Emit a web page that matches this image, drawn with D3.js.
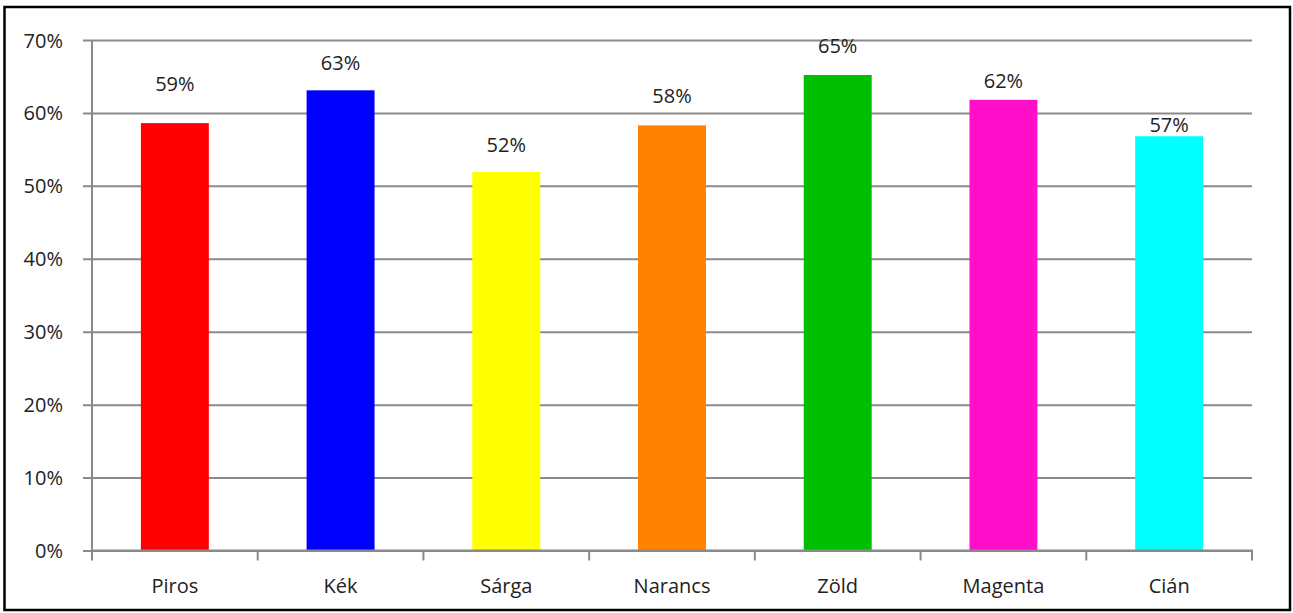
<!DOCTYPE html>
<html><head><meta charset="utf-8">
<script src="https://cdn.jsdelivr.net/npm/d3@7"></script>
<style>
html,body{margin:0;padding:0;background:#fff;}
svg text{font-family:"Open Sans","DejaVu Sans",sans-serif;fill:#222;}
</style></head>
<body>
<svg id="c" width="1293" height="613"></svg>
<script>
const categories = ["Piros","Kék","Sárga","Narancs","Zöld","Magenta","Cián"];
const values = [0.586, 0.631, 0.519, 0.583, 0.652, 0.618, 0.568];
const colors = ["#ff0000","#0000ff","#ffff00","#ff8300","#00bf00","#ff0fca","#00ffff"];
const yTicks = [0,0.1,0.2,0.3,0.4,0.5,0.6,0.7];
// manual label placement (pixel gap between label baseline and bar top), as in the original
const labelGap = [32,20,20,22,22,12,4];

(function(){
const svg = d3.select("#c");
const mL = 92, mR = 1252, mT = 40, mB = 550.5;
const fs = "20px";

svg.append("rect").attr("x",4.5).attr("y",7).attr("width",1285.5).attr("height",603)
  .attr("fill","#fff").attr("stroke","#000").attr("stroke-width",2.5);

const x = d3.scaleBand().domain(categories).range([mL,mR]).padding(0);
const y = d3.scaleLinear().domain([0,0.7]).range([mB,mT]);

// gridlines + y axis
const yAxis = d3.axisLeft(y).tickValues(yTicks).tickFormat(d3.format(".0%"))
  .tickSize(-(mR-mL)).tickPadding(0);
const gy = svg.append("g").attr("transform",`translate(${mL},0)`).call(yAxis);
gy.select(".domain").remove();
gy.selectAll(".tick line").attr("stroke","#8a8a8a").attr("stroke-width",2)
  .attr("x1",-9);
gy.selectAll(".tick text").attr("x",-29).attr("dy","0.35em")
  .style("font-size",fs);
svg.append("line").attr("x1",mL).attr("x2",mL).attr("y1",mT).attr("y2",mB+10)
  .attr("stroke","#8a8a8a").attr("stroke-width",2);

// bars
const bw = x.bandwidth()*0.41;
svg.append("g").selectAll("rect").data(values).join("rect")
  .attr("x",(d,i)=>x(categories[i])+x.bandwidth()/2-bw/2)
  .attr("width",bw)
  .attr("y",d=>y(d))
  .attr("height",d=>y(0)-y(d))
  .attr("fill",(d,i)=>colors[i]);

// x axis
const xAxis = d3.axisBottom(x).tickSize(0).tickPadding(0);
const gx = svg.append("g").attr("transform",`translate(0,${mB})`).call(xAxis);
gx.select(".domain").attr("stroke","#8a8a8a").attr("stroke-width",2)
  .attr("d",`M${mL},0H${mR}V10`);
gx.selectAll(".tick text").attr("y",42.5).attr("dy",0).style("font-size",fs);
gx.append("g").selectAll("line").data(categories.slice(1)).join("line")
  .attr("x1",d=>x(d)).attr("x2",d=>x(d)).attr("y1",0).attr("y2",10)
  .attr("stroke","#8a8a8a").attr("stroke-width",2);

// data labels
svg.append("g").selectAll("text").data(values).join("text")
  .attr("x",(d,i)=>x(categories[i])+x.bandwidth()/2)
  .attr("y",(d,i)=>y(d)-labelGap[i])
  .attr("text-anchor","middle")
  .style("font-size",fs)
  .text(d=>d3.format(".0%")(d));
})();
</script>
</body></html>
